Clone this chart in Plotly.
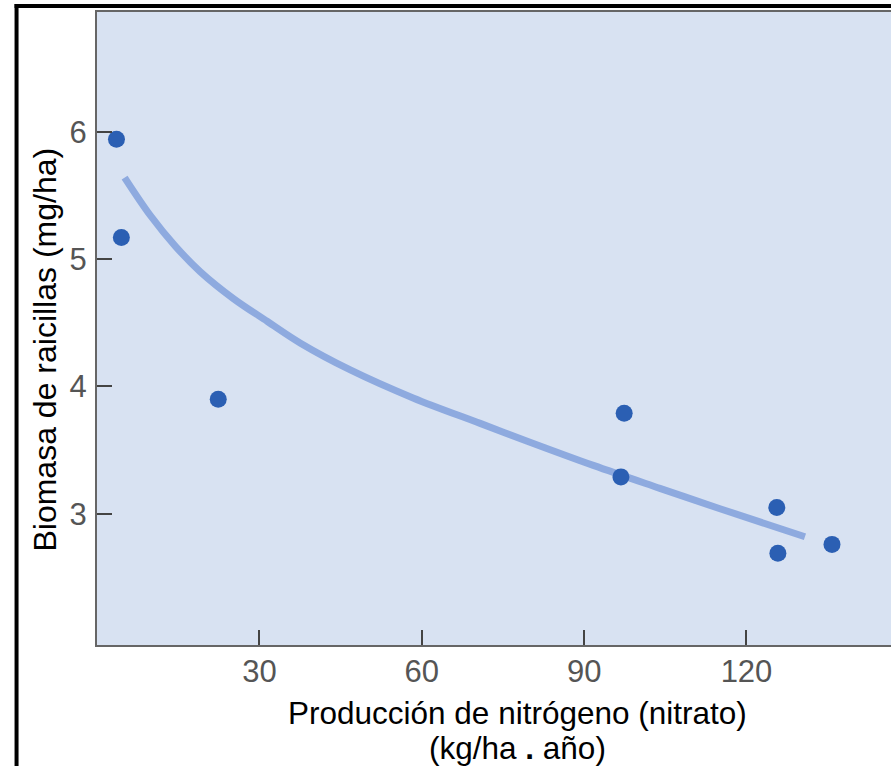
import plotly.graph_objects as go

# Observed data points
nitrogen = [3.6, 4.5, 22.4, 97.4, 96.8, 125.6, 125.8, 135.8]
biomass = [5.94, 5.17, 3.90, 3.79, 3.29, 3.05, 2.69, 2.76]

# Fitted curve
curve_x = [5.1, 9.9, 14.5, 19.1, 25.2, 31.5, 37.6, 46.8, 58.4, 70.8, 79.5, 91.7, 104.0, 115.1, 130.8]
curve_y = [5.64, 5.34, 5.10, 4.90, 4.69, 4.51, 4.34, 4.13, 3.91, 3.71, 3.57, 3.38, 3.20, 3.04, 2.82]

x_ticks = [30, 60, 90, 120]
y_ticks = [3, 4, 5, 6]

FONT = "Liberation Sans, Arial, Helvetica, sans-serif"

fig = go.Figure()
fig.add_trace(go.Scatter(
    x=curve_x, y=curve_y, mode="lines",
    line=dict(color="#8eaadf", width=7, shape="spline", smoothing=1),
    hoverinfo="skip", showlegend=False))
fig.add_trace(go.Scatter(
    x=nitrogen, y=biomass, mode="markers",
    marker=dict(color="#2b5fb3", size=17), showlegend=False))

W, H = 891, 766
L, R, T, B = 96.5, 0, 12, 121
pw = W - L - R
ph = H - T - B

def px(xp):
    return (xp - L) / pw

def py(yp):
    return (H - B - yp) / ph

axis_common = dict(
    showgrid=False, zeroline=False, showline=True, linecolor="#666666", linewidth=2,
    ticks="inside", ticklen=15, tickwidth=1.5, tickcolor="#444444",
    tickfont=dict(family=FONT, size=31, color="#555555"),
)

fig.update_layout(
    width=W, height=H,
    margin=dict(l=L, r=R, t=T, b=B, pad=0),
    paper_bgcolor="white", plot_bgcolor="#d8e2f2",
    xaxis=dict(range=[0, 146.7], tickvals=x_ticks, ticktext=[str(v) for v in x_ticks],
               ticklabelstandoff=-2, mirror=True, **axis_common),
    yaxis=dict(range=[1.97, 6.94], tickvals=y_ticks, ticktext=[str(v) for v in y_ticks],
               ticklabelstandoff=2, mirror=False, **axis_common),
    font=dict(family=FONT),
)

fig.add_annotation(text="Producción de nitrógeno (nitrato)", xref="paper", yref="paper",
                   x=px(517), y=py(713), xanchor="center", yanchor="middle", showarrow=False,
                   font=dict(family=FONT, size=31.5, color="black"))
fig.add_annotation(text="(kg/ha <b>.</b> año)", xref="paper", yref="paper",
                   x=px(517), y=py(748), xanchor="center", yanchor="middle", showarrow=False,
                   font=dict(family=FONT, size=31.5, color="black"))
fig.add_annotation(text="Biomasa de raicillas (mg/ha)", xref="paper", yref="paper",
                   x=px(44), y=py(350), xanchor="center", yanchor="middle", showarrow=False,
                   textangle=-90, font=dict(family=FONT, size=32, color="black"))

# outer black frame (left and top edges)
fig.add_shape(type="line", xref="paper", yref="paper", x0=px(16), x1=px(16), y0=py(4), y1=py(H + 5),
              line=dict(color="black", width=4))
fig.add_shape(type="line", xref="paper", yref="paper", x0=px(14), x1=px(W + 5), y0=py(6), y1=py(6),
              line=dict(color="black", width=4))

fig.write_html("out.html", config={"displayModeBar": False},
               post_script="document.body.style.margin='0';document.body.style.overflow='hidden';")
